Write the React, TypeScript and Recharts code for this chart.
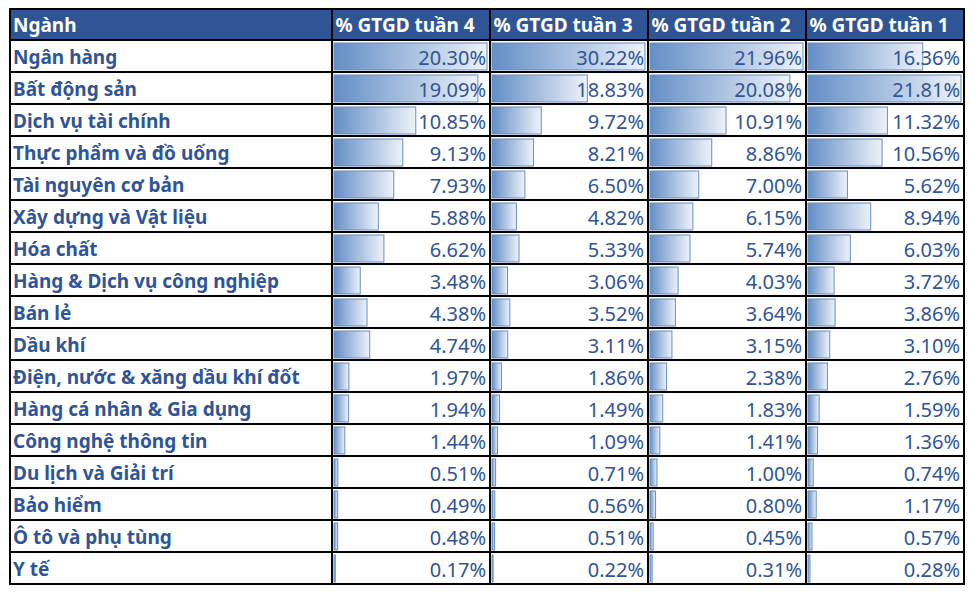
import { BarChart, Bar, XAxis, YAxis, LabelList } from "recharts";

const sectors = [
  "Ngân hàng",
  "Bất động sản",
  "Dịch vụ tài chính",
  "Thực phẩm và đồ uống",
  "Tài nguyên cơ bản",
  "Xây dựng và Vật liệu",
  "Hóa chất",
  "Hàng & Dịch vụ công nghiệp",
  "Bán lẻ",
  "Dầu khí",
  "Điện, nước & xăng dầu khí đốt",
  "Hàng cá nhân & Gia dụng",
  "Công nghệ thông tin",
  "Du lịch và Giải trí",
  "Bảo hiểm",
  "Ô tô và phụ tùng",
  "Y tế",
];

const week4 = [20.3, 19.09, 10.85, 9.13, 7.93, 5.88, 6.62, 3.48, 4.38, 4.74, 1.97, 1.94, 1.44, 0.51, 0.49, 0.48, 0.17];
const week3 = [30.22, 18.83, 9.72, 8.21, 6.5, 4.82, 5.33, 3.06, 3.52, 3.11, 1.86, 1.49, 1.09, 0.71, 0.56, 0.51, 0.22];
const week2 = [21.96, 20.08, 10.91, 8.86, 7.0, 6.15, 5.74, 4.03, 3.64, 3.15, 2.38, 1.83, 1.41, 1.0, 0.8, 0.45, 0.31];
const week1 = [16.36, 21.81, 11.32, 10.56, 5.62, 8.94, 6.03, 3.72, 3.86, 3.1, 2.76, 1.59, 1.36, 0.74, 1.17, 0.57, 0.28];

const headers = ["Ngành", "% GTGD tuần 4", "% GTGD tuần 3", "% GTGD tuần 2", "% GTGD tuần 1"];
const columns = [week4, week3, week2, week1];

const BLUE = "#2F5597";
const BAR = "#638EC6";
const FONT = "'Noto Sans', sans-serif";

const ROW = 32;
const COL_W = 158;
const FIRST_W = 322.5;
const X0 = 1.5;
const colX = [X0, X0 + FIRST_W, X0 + FIRST_W + COL_W, X0 + FIRST_W + COL_W * 2, X0 + FIRST_W + COL_W * 3, X0 + FIRST_W + COL_W * 4];
const Y0 = 0.5;
const nRows = sectors.length + 1;

function GradBar(props: any) {
  const { x, y, width, height, gradId } = props;
  if (!width || width <= 0) return null;
  return (
    <rect
      x={x}
      y={y}
      width={Math.max(width, 1)}
      height={height}
      fill={`url(#${gradId})`}
      stroke={BAR}
      strokeWidth={1}
    />
  );
}

function ValueCol({ values, idx }: { values: number[]; idx: number }) {
  const data = sectors.map((s, i) => ({ name: s, v: values[i] }));
  const max = Math.max(...values);
  const gradId = `grad${idx}`;
  return (
    <BarChart
      width={COL_W}
      height={ROW * sectors.length}
      data={data}
      layout="vertical"
      margin={{ top: 0, right: 3, bottom: 0, left: 2 }}
      barCategoryGap={0}
    >
      <defs>
        <linearGradient id={gradId} x1="0" y1="0" x2="1" y2="0">
          <stop offset="0%" stopColor={BAR} />
          <stop offset="100%" stopColor="#EEF2F9" />
        </linearGradient>
      </defs>
      <XAxis type="number" hide domain={[0, max]} />
      <YAxis type="category" dataKey="name" hide />
      <Bar
        dataKey="v"
        barSize={27}
        isAnimationActive={false}
        shape={(p: any) => <GradBar {...p} gradId={gradId} />}
      >
        <LabelList
          dataKey="v"
          content={(p: any) => (
            <text
              x={COL_W - 4}
              y={p.y + p.height / 2 + 8}
              textAnchor="end"
              fill={BLUE}
              fontSize={20}
              fontFamily={FONT}
            >
              {Number(p.value).toFixed(2)}%
            </text>
          )}
        />
      </Bar>
    </BarChart>
  );
}

export default function App() {
  const tableW = colX[5] - colX[0];
  const tableH = ROW * nRows;
  return (
    <div style={{ position: "relative", width: 966, height: 585, fontFamily: FONT }}>
      {/* header band */}
      <div
        style={{
          position: "absolute",
          left: colX[0],
          top: Y0,
          width: tableW,
          height: ROW - Y0,
          background: BLUE,
        }}
      />
      {headers.map((h, i) => (
        <div
          key={h}
          style={{
            position: "absolute",
            left: colX[i] + 3.5,
            top: Y0,
            height: ROW,
            lineHeight: `${ROW}px`,
            color: "#fff",
            fontWeight: 700,
            fontSize: 19,
            whiteSpace: "nowrap",
          }}
        >
          {h}
        </div>
      ))}
      {sectors.map((s, i) => (
        <div
          key={s}
          style={{
            position: "absolute",
            left: colX[0] + 3.5,
            top: ROW * (i + 1),
            height: ROW,
            lineHeight: `${ROW + 2}px`,
            color: BLUE,
            fontWeight: 700,
            fontSize: 19,
            whiteSpace: "nowrap",
          }}
        >
          {s}
        </div>
      ))}
      {columns.map((vals, i) => (
        <div key={i} style={{ position: "absolute", left: colX[i + 1], top: ROW }}>
          <ValueCol values={vals} idx={i} />
        </div>
      ))}
      {/* grid lines */}
      {Array.from({ length: nRows + 1 }).map((_, r) => (
        <div
          key={"h" + r}
          style={{
            position: "absolute",
            left: colX[0] - 1,
            top: (r === 0 ? Y0 : ROW * r) - 1,
            width: tableW + 2,
            height: 2,
            background: "#000",
          }}
        />
      ))}
      {colX.map((x, c) => (
        <div
          key={"v" + c}
          style={{
            position: "absolute",
            left: x - 1,
            top: Y0 - 1,
            width: 2,
            height: tableH - Y0 + 2,
            background: "#000",
          }}
        />
      ))}
    </div>
  );
}
